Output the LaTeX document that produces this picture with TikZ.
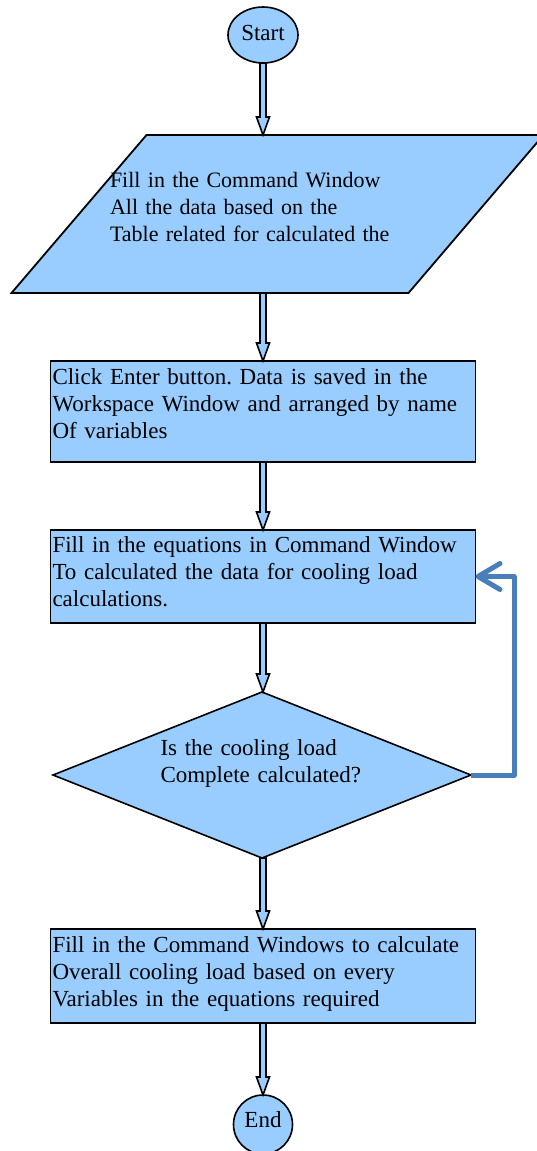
\documentclass[tikz,border=0pt]{standalone}
\usepackage{fontspec}
\setmainfont{Liberation Serif}
\usepackage{tikz}
\usetikzlibrary{positioning,shapes.geometric,calc,arrows.meta,backgrounds}
\definecolor{boxblue}{RGB}{153,204,255}
\definecolor{loopblue}{RGB}{74,126,187}
\frenchspacing

\begin{document}
\begin{tikzpicture}[
		x=1pt, y=-1pt,
		font=\fontsize{23}{27}\selectfont,
		every node/.style={outer sep=0pt},
		lift/.style={execute at end node={\endgraf\vspace*{#1}}},
		block/.style={draw, line width=1.8pt, fill=boxblue, minimum width=425pt, minimum height=#1, text width=421pt, align=left, inner xsep=1pt, inner ysep=0pt},
		io/.style={minimum width=397pt, minimum height=158pt, text width=335pt, align=left, inner sep=0pt, font=\fontsize{22}{27}\selectfont},
		decision/.style={diamond, draw, line width=1.6pt, fill=boxblue, minimum width=418pt, minimum height=166pt, aspect=2.5, inner sep=0pt, text width=203pt, align=left},
		terminal/.style={ellipse, draw, line width=1.6pt, fill=boxblue, inner sep=0pt},
		flow/.style={draw, line width=1.6pt, fill=boxblue, line join=miter,
			to path={let \p1=(\tikztostart), \p2=(\tikztotarget) in
				(\x1-3pt,\y1) -- (\x1-3pt,\y2+18pt) -- (\x1-6.5pt,\y2+18pt) -- (\x1,\y2)
				-- (\x1+6.5pt,\y2+18pt) -- (\x1+3pt,\y2+18pt) -- (\x1+3pt,\y1) -- cycle}},
		back/.style={draw=loopblue, line width=5pt, line join=round, -{Straight Barb[length=22pt, width=26pt, round]}}
		]
		\useasboundingbox (0,0) rectangle (537,1151);
		\node[terminal, minimum width=70pt, minimum height=56pt, text depth=4pt] at (263,35) (start) {Start};
		\node[io, lift=14pt, below=72pt of start, xshift=14.5pt] (input) {Fill in the Command Window\\All the data based on the\\Table related for calculated the};
		\node[block=101pt, lift=16pt, below=68pt of input, xshift=-14.5pt] (save) {Click Enter button. Data is saved in the\\Workspace Window and arranged by name\\Of variables};
		\node[block=93pt, lift=10pt, below=68pt of save] (eqn) {Fill in the equations in Command Window\\To calculated the data for cooling load\\calculations.};
		\node[decision, lift=24pt, below=69pt of eqn, xshift=-1pt] (check) {Is the cooling load\\Complete calculated?};
		\node[block=94pt, lift=5pt, below=71pt of check, xshift=1pt] (total) {Fill in the Command Windows to calculate\\Overall cooling load based on every\\Variables in the equations required};
		\node[terminal, circle, minimum size=59pt, text depth=10pt, below=72pt of total] (stop) {End};
		
		% input parallelogram behind its text
		\begin{scope}[on background layer]
			\draw[line width=1.8pt, fill=boxblue] ([xshift=67.5pt]input.north west) -- ([xshift=67.5pt]input.north east)
			-- ([xshift=-67.5pt]input.south east) -- ([xshift=-67.5pt]input.south west) -- cycle;
		\end{scope}
		
		% Draw the flow arrows
		\path
		(start.south) edge[flow] (start.south |- input.north)
		(save.north |- input.south) edge[flow] (save.north)
		(save.south) edge[flow] (eqn.north)
		(eqn.south) edge[flow] (eqn.south |- check.north)
		(total.north |- check.south) edge[flow] (total.north)
		(total.south) edge[flow] (stop.north);
		
		% loop back
		\draw[back] (check.east) -- ++(43,0) |- (eqn.east);
	\end{tikzpicture}
\end{document}
